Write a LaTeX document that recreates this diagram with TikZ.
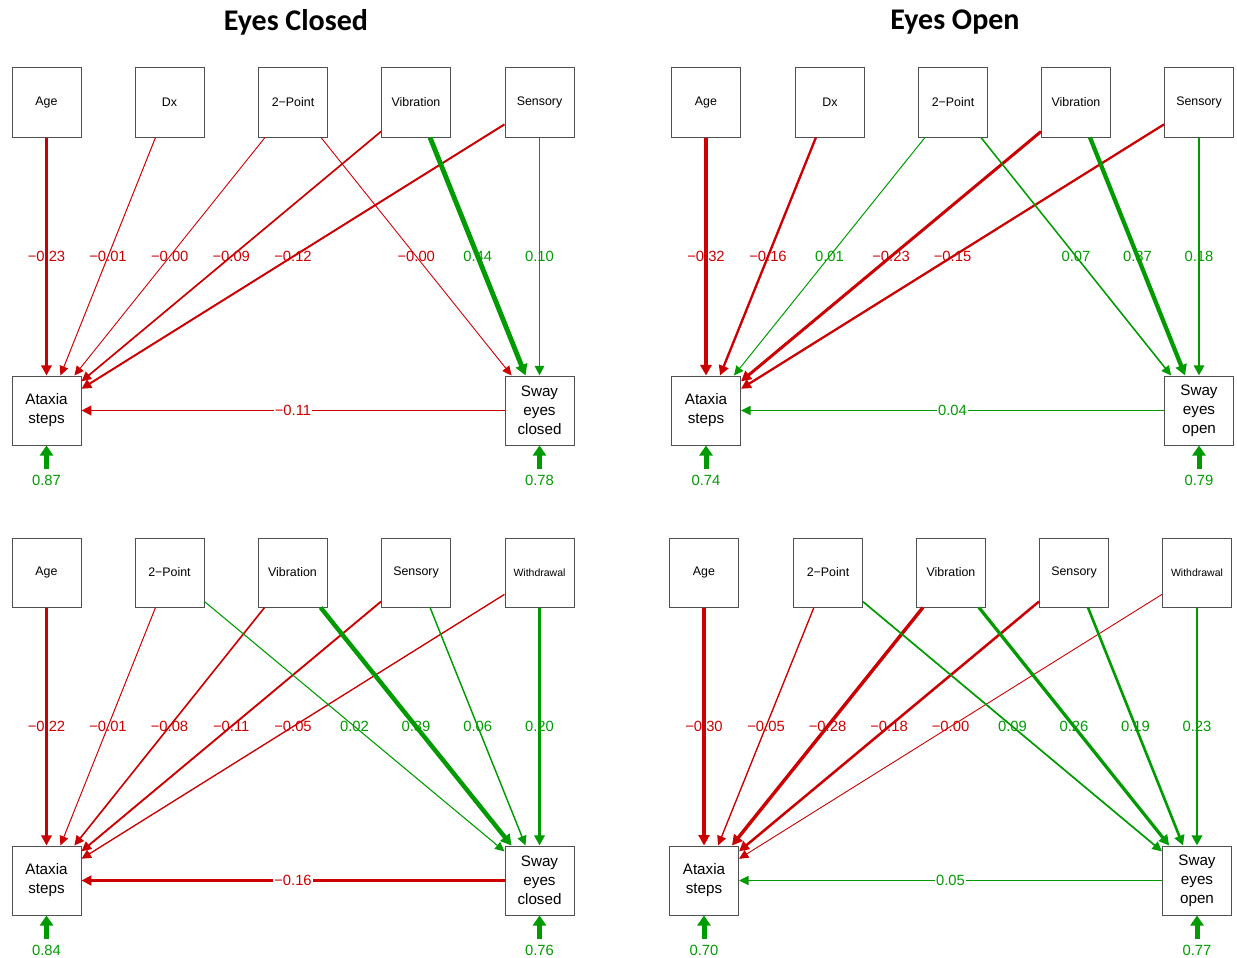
\documentclass[tikz,border=0pt]{standalone}
\usepackage{fontspec}
\setmainfont{Liberation Sans}
\newfontfamily\headfont{Carlito}
\usetikzlibrary{arrows.meta,calc}

\definecolor{negred}{RGB}{204,0,0}
\definecolor{posgreen}{RGB}{0,155,0}
\definecolor{boxgray}{RGB}{80,80,80}

\tikzset{
  var/.style={draw=boxgray, line width=1pt, minimum size=69pt, inner sep=0pt, align=center,
    font=\fontsize{12.4}{14}\selectfont},
  outcome/.style={var, font=\fontsize{15.2}{19}\selectfont},
  wt/.style={line width={0.9pt+9pt*#1}, -{Triangle[length=9pt 0.4, width=8pt 0.8]}},
  neg/.style={draw=negred, wt=#1},
  pos/.style={draw=posgreen, wt=#1},
  coef/.style={font=\fontsize{14.8}{16}\selectfont, inner sep=1pt},
  negval/.style={coef, text=negred},
  posval/.style={coef, text=posgreen},
  resid/.style={draw=posgreen, line width=5pt, -{Triangle[length=10pt, width=13pt]}},
  heading/.style={font=\headfont\bfseries\fontsize{30}{34}\selectfont}
}

\begin{document}
\begin{tikzpicture}[x=1pt,y=-1pt]
\useasboundingbox (0,0) rectangle (1237,958);

\node[heading] (title1) at (296,22) {Eyes Closed};
\node[heading] (title2) at (955,22) {Eyes Open};

% eyes closed, first model
\begin{scope}
\node[var] (age1) at (46.5,102.5) {Age};
\node[var] (dx1) at (169.5,102.5) {Dx};
\node[var] (pt1) at (293,102.5) {2−Point};
\node[var] (vib1) at (416,102.5) {Vibration};
\node[var] (sens1) at (539.5,102.5) {Sensory};
\node[outcome] (atax1) at (46.5,410.5) {Ataxia\\steps};
\node[outcome] (sway1) at (539.5,410.5) {Sway\\eyes\\closed};

\draw[neg=0.23] (age1) -- (atax1);
\draw[neg=0.01] (dx1) -- (atax1);
\draw[neg=0.00] (pt1) -- (atax1);
\draw[neg=0.09] (vib1) -- (atax1);
\draw[neg=0.12] (sens1) -- (atax1);
\draw[neg=0.00] (pt1) -- (sway1);
\draw[pos=0.44] (vib1) -- (sway1);
\draw[pos=0.10] (sens1) -- (sway1);
\draw[neg=0.11] (sway1) -- (atax1);

\node[negval] (l1a) at ($(age1)!.5!(atax1)$) {−0.23};
\node[negval] (l1b) at ($(dx1)!.5!(atax1)$) {−0.01};
\node[negval] (l1c) at ($(pt1)!.5!(atax1)$) {−0.00};
\node[negval] (l1d) at ($(vib1)!.5!(atax1)$) {−0.09};
\node[negval] (l1e) at ($(sens1)!.5!(atax1)$) {−0.12};
\node[negval] (l1f) at ($(pt1)!.5!(sway1)$) {−0.00};
\node[posval] (l1g) at ($(vib1)!.5!(sway1)$) {0.44};
\node[posval] (l1h) at ($(sens1)!.5!(sway1)$) {0.10};
\node[negval, fill=white] (l1i) at ($(sway1)!.5!(atax1)$) {−0.11};

\coordinate (r1a) at (46.5,469);
\coordinate (r1b) at (539.5,469);
\draw[resid] (r1a) -- (atax1);
\draw[resid] (r1b) -- (sway1);
\node[posval] (r1al) at (46.5,480.5) {0.87};
\node[posval] (r1bl) at (539.5,480.5) {0.78};
\end{scope}

% eyes open, first model
\begin{scope}[shift={(659.5,0)}]
\node[var] (age2) at (46.5,102.5) {Age};
\node[var] (dx2) at (170.5,102.5) {Dx};
\node[var] (pt2) at (293.5,102.5) {2−Point};
\node[var] (vib2) at (416.5,102.5) {Vibration};
\node[var] (sens2) at (539.5,102.5) {Sensory};
\node[outcome] (atax2) at (46.5,410.5) {Ataxia\\steps};
\node[outcome] (sway2) at (539.5,410.5) {Sway\\eyes\\open};

\draw[neg=0.32] (age2) -- (atax2);
\draw[neg=0.16] (dx2) -- (atax2);
\draw[pos=0.01] (pt2) -- (atax2);
\draw[neg=0.23] (vib2) -- (atax2);
\draw[neg=0.15] (sens2) -- (atax2);
\draw[pos=0.07] (pt2) -- (sway2);
\draw[pos=0.37] (vib2) -- (sway2);
\draw[pos=0.18] (sens2) -- (sway2);
\draw[pos=0.04] (sway2) -- (atax2);

\node[negval] (l2a) at ($(age2)!.5!(atax2)$) {−0.32};
\node[negval] (l2b) at ($(dx2)!.5!(atax2)$) {−0.16};
\node[posval] (l2c) at ($(pt2)!.5!(atax2)$) {0.01};
\node[negval] (l2d) at ($(vib2)!.5!(atax2)$) {−0.23};
\node[negval] (l2e) at ($(sens2)!.5!(atax2)$) {−0.15};
\node[posval] (l2f) at ($(pt2)!.5!(sway2)$) {0.07};
\node[posval] (l2g) at ($(vib2)!.5!(sway2)$) {0.37};
\node[posval] (l2h) at ($(sens2)!.5!(sway2)$) {0.18};
\node[posval, fill=white] (l2i) at ($(sway2)!.5!(atax2)$) {0.04};

\coordinate (r2a) at (46.5,469);
\coordinate (r2b) at (539.5,469);
\draw[resid] (r2a) -- (atax2);
\draw[resid] (r2b) -- (sway2);
\node[posval] (r2al) at (46.5,480.5) {0.74};
\node[posval] (r2bl) at (539.5,480.5) {0.79};
\end{scope}

% eyes closed, second model
\begin{scope}[shift={(0,470)}]
\node[var] (age3) at (46.5,102.5) {Age};
\node[var] (pt3) at (169.5,102.5) {2−Point};
\node[var] (vib3) at (292.5,102.5) {Vibration};
\node[var] (sens3) at (416,102.5) {Sensory};
\node[var, font=\fontsize{10.5}{12}\selectfont] (wd3) at (539.5,102.5) {Withdrawal};
\node[outcome] (atax3) at (46.5,410.5) {Ataxia\\steps};
\node[outcome] (sway3) at (539.5,410.5) {Sway\\eyes\\closed};

\draw[neg=0.22] (age3) -- (atax3);
\draw[neg=0.01] (pt3) -- (atax3);
\draw[neg=0.08] (vib3) -- (atax3);
\draw[neg=0.11] (sens3) -- (atax3);
\draw[neg=0.05] (wd3) -- (atax3);
\draw[pos=0.02] (pt3) -- (sway3);
\draw[pos=0.39] (vib3) -- (sway3);
\draw[pos=0.06] (sens3) -- (sway3);
\draw[pos=0.20] (wd3) -- (sway3);
\draw[neg=0.16] (sway3) -- (atax3);

\node[negval] (l3a) at ($(age3)!.5!(atax3)$) {−0.22};
\node[negval] (l3b) at ($(pt3)!.5!(atax3)$) {−0.01};
\node[negval] (l3c) at ($(vib3)!.5!(atax3)$) {−0.08};
\node[negval] (l3d) at ($(sens3)!.5!(atax3)$) {−0.11};
\node[negval] (l3e) at ($(wd3)!.5!(atax3)$) {−0.05};
\node[posval] (l3f) at ($(pt3)!.5!(sway3)$) {0.02};
\node[posval] (l3g) at ($(vib3)!.5!(sway3)$) {0.39};
\node[posval] (l3h) at ($(sens3)!.5!(sway3)$) {0.06};
\node[posval] (l3i) at ($(wd3)!.5!(sway3)$) {0.20};
\node[negval, fill=white] (l3j) at ($(sway3)!.5!(atax3)$) {−0.16};

\coordinate (r3a) at (46.5,469);
\coordinate (r3b) at (539.5,469);
\draw[resid] (r3a) -- (atax3);
\draw[resid] (r3b) -- (sway3);
\node[posval] (r3al) at (46.5,480.5) {0.84};
\node[posval] (r3bl) at (539.5,480.5) {0.76};
\end{scope}

% eyes open, second model
\begin{scope}[shift={(657.5,470)}]
\node[var] (age4) at (46.5,102.5) {Age};
\node[var] (pt4) at (170.5,102.5) {2−Point};
\node[var] (vib4) at (293.5,102.5) {Vibration};
\node[var] (sens4) at (416.5,102.5) {Sensory};
\node[var, font=\fontsize{10.5}{12}\selectfont] (wd4) at (539.5,102.5) {Withdrawal};
\node[outcome] (atax4) at (46.5,410.5) {Ataxia\\steps};
\node[outcome] (sway4) at (539.5,410.5) {Sway\\eyes\\open};

\draw[neg=0.30] (age4) -- (atax4);
\draw[neg=0.05] (pt4) -- (atax4);
\draw[neg=0.28] (vib4) -- (atax4);
\draw[neg=0.18] (sens4) -- (atax4);
\draw[neg=0.00] (wd4) -- (atax4);
\draw[pos=0.09] (pt4) -- (sway4);
\draw[pos=0.26] (vib4) -- (sway4);
\draw[pos=0.19] (sens4) -- (sway4);
\draw[pos=0.23] (wd4) -- (sway4);
\draw[pos=0.05] (sway4) -- (atax4);

\node[negval] (l4a) at ($(age4)!.5!(atax4)$) {−0.30};
\node[negval] (l4b) at ($(pt4)!.5!(atax4)$) {−0.05};
\node[negval] (l4c) at ($(vib4)!.5!(atax4)$) {−0.28};
\node[negval] (l4d) at ($(sens4)!.5!(atax4)$) {−0.18};
\node[negval] (l4e) at ($(wd4)!.5!(atax4)$) {−0.00};
\node[posval] (l4f) at ($(pt4)!.5!(sway4)$) {0.09};
\node[posval] (l4g) at ($(vib4)!.5!(sway4)$) {0.26};
\node[posval] (l4h) at ($(sens4)!.5!(sway4)$) {0.19};
\node[posval] (l4i) at ($(wd4)!.5!(sway4)$) {0.23};
\node[posval, fill=white] (l4j) at ($(sway4)!.5!(atax4)$) {0.05};

\coordinate (r4a) at (46.5,469);
\coordinate (r4b) at (539.5,469);
\draw[resid] (r4a) -- (atax4);
\draw[resid] (r4b) -- (sway4);
\node[posval] (r4al) at (46.5,480.5) {0.70};
\node[posval] (r4bl) at (539.5,480.5) {0.77};
\end{scope}
\end{tikzpicture}
\end{document}
